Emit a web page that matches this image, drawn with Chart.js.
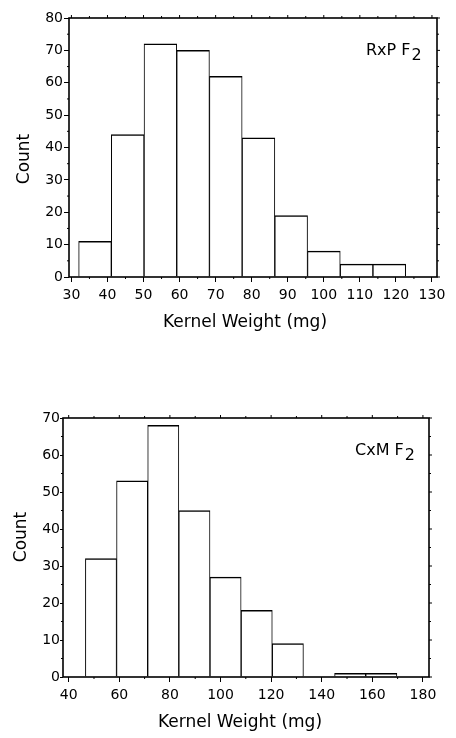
<!DOCTYPE html>
<html><head><meta charset="utf-8">
<script src="https://cdn.jsdelivr.net/npm/chart.js@4"></script>
<style>
html,body{margin:0;padding:0;background:#fff;}
#wrap{position:relative;width:456px;height:738px;overflow:hidden;background:#fff;}
.c{position:absolute;left:0;}
</style></head><body>
<div id="wrap">
<div class="c" style="top:0"><canvas id="c1" width="456" height="345"></canvas></div>
<div class="c" style="top:370px"><canvas id="c2" width="456" height="368"></canvas></div>
</div>
<script>
// ---- Data ----
const rxpBinCenters = [36.54, 45.61, 54.68, 63.75, 72.82, 81.89, 90.96, 100.03, 109.10, 118.17];
const rxpCounts     = [11, 44, 72, 70, 62, 43, 19, 8, 4, 4];
const rxpXTicks     = [30, 40, 50, 60, 70, 80, 90, 100, 110, 120, 130];
const rxpYTicks     = [0, 10, 20, 30, 40, 50, 60, 70, 80];

const cxmBinCenters = [52.76, 65.07, 77.38, 89.69, 102.00, 114.31, 126.62, 138.93, 151.24, 163.55];
const cxmCounts     = [32, 53, 68, 45, 27, 18, 9, 0, 1, 1];
const cxmXTicks     = [40, 60, 80, 100, 120, 140, 160, 180];
const cxmYTicks     = [0, 10, 20, 30, 40, 50, 60, 70];

const xTitle = 'Kernel Weight (mg)';
const yTitle = 'Count';

Chart.defaults.font.family = "'DejaVu Sans', Verdana, sans-serif";
Chart.defaults.color = '#000';

function midpoints(arr){ const m=[]; for(let i=0;i<arr.length-1;i++) m.push((arr[i]+arr[i+1])/2); return m; }

function makeChart(id, cfg){
  const deco = {
    id: 'deco',
    afterDraw(chart){
      const {ctx, chartArea:a, scales:{x, y}} = chart;
      ctx.save();
      ctx.strokeStyle = '#000';
      // frame
      ctx.lineWidth = 1.6;
      ctx.strokeRect(a.left, a.top, a.right - a.left, a.bottom - a.top);
      ctx.lineWidth = 1;
      ctx.beginPath();
      cfg.xTicks.forEach(v => { const px = x.getPixelForValue(v); ctx.moveTo(px, a.top); ctx.lineTo(px, a.top - 3); });
      cfg.yTicks.forEach(v => { const py = y.getPixelForValue(v); ctx.moveTo(a.right, py); ctx.lineTo(a.right + 3, py); });
      midpoints(cfg.xTicks).forEach(v => { const px = x.getPixelForValue(v);
        ctx.moveTo(px, a.top); ctx.lineTo(px, a.top - 2);
        ctx.moveTo(px, a.bottom); ctx.lineTo(px, a.bottom + 2); });
      midpoints(cfg.yTicks).forEach(v => { const py = y.getPixelForValue(v);
        ctx.moveTo(a.left, py); ctx.lineTo(a.left - 2, py);
        ctx.moveTo(a.right, py); ctx.lineTo(a.right + 2, py); });
      ctx.stroke();
      // titles
      ctx.fillStyle = '#000';
      ctx.font = "17px 'DejaVu Sans', Verdana, sans-serif";
      ctx.textAlign = 'center'; ctx.textBaseline = 'middle';
      ctx.fillText(xTitle, cfg.xTitlePos[0], cfg.xTitlePos[1]);
      ctx.save();
      ctx.translate(cfg.yTitlePos[0], cfg.yTitlePos[1]);
      ctx.rotate(-Math.PI/2);
      ctx.fillText(yTitle, 0, 0);
      ctx.restore();
      // annotation with subscript
      ctx.font = "16px 'DejaVu Sans', Verdana, sans-serif";
      ctx.textAlign = 'left'; ctx.textBaseline = 'alphabetic';
      const [ax, ay] = cfg.labelPos;
      ctx.fillText(cfg.label, ax, ay);
      const w = ctx.measureText(cfg.label).width;
      ctx.fillText('2', ax + w + 1, ay + 5);
      ctx.restore();
    }
  };
  return new Chart(document.getElementById(id), {
    type: 'bar',
    data: {
      datasets: [{
        data: cfg.centers.map((c, i) => ({x: c, y: cfg.counts[i]})),
        backgroundColor: '#fff',
        borderColor: '#000',
        borderWidth: {left: 1, right: 1, top: 1.5, bottom: 0},
        borderSkipped: 'start',
        barPercentage: 1,
        categoryPercentage: 1
      }]
    },
    options: {
      responsive: false,
      animation: false,
      events: [],
      layout: { padding: cfg.padding },
      plugins: { legend: {display: false}, tooltip: {enabled: false} },
      scales: {
        x: {
          type: 'linear', min: cfg.xMin, max: cfg.xMax, offset: false,
          afterBuildTicks: s => { s.ticks = cfg.xTicks.map(v => ({value: v})); },
          afterFit: s => { s.height = cfg.xAxisH; },
          grid: {display: true, offset: false, drawOnChartArea: false, drawTicks: true, tickLength: 5, color: '#000', lineWidth: 1},
          border: {display: false},
          ticks: {font: {size: 14}, padding: 5, maxRotation: 0, autoSkip: false, color: '#000'}
        },
        y: {
          type: 'linear', min: 0, max: cfg.yMax,
          afterBuildTicks: s => { s.ticks = cfg.yTicks.map(v => ({value: v})); },
          afterFit: s => { s.width = cfg.yAxisW; },
          grid: {display: true, drawOnChartArea: false, drawTicks: true, tickLength: cfg.yTickLen, color: '#000', lineWidth: 1},
          border: {display: false},
          ticks: {font: {size: 14}, padding: cfg.yPad, autoSkip: false, color: '#000'}
        }
      }
    },
    plugins: [deco]
  });
}

makeChart('c1', {
  centers: rxpBinCenters, counts: rxpCounts, xTicks: rxpXTicks, yTicks: rxpYTicks,
  xMin: 29.33, xMax: 131.4, yMax: 80,
  padding: {left: 0, right: 19, top: 18, bottom: 0},
  xAxisH: 68, yAxisW: 69, yTickLen: 5, yPad: 1,
  xTitlePos: [245, 323], yTitlePos: [25, 159],
  label: 'RxP F', labelPos: [366, 55]
});

makeChart('c2', {
  centers: cxmBinCenters, counts: cxmCounts, xTicks: cxmXTicks, yTicks: cxmYTicks,
  xMin: 37.75, xMax: 182.4, yMax: 70,
  padding: {left: 0, right: 27, top: 48, bottom: 0},
  xAxisH: 61, yAxisW: 63, yTickLen: 3, yPad: 0,
  xTitlePos: [240, 353], yTitlePos: [22, 167],
  label: 'CxM F', labelPos: [355, 85]
});
</script>
</body></html>
